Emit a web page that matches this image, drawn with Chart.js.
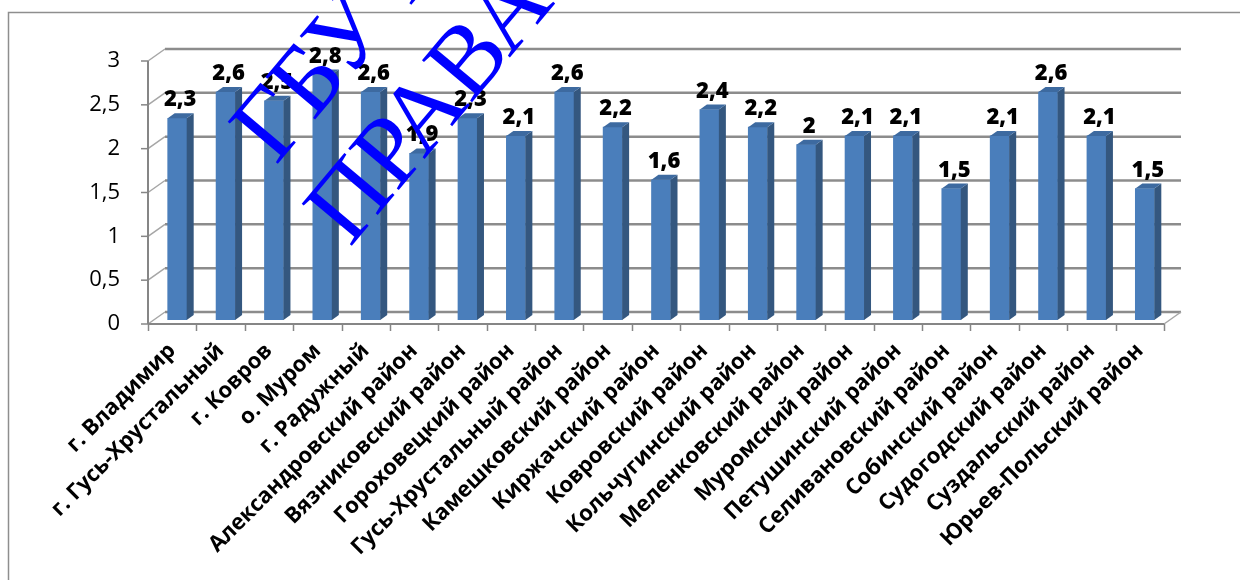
<!DOCTYPE html>
<html>
<head>
<meta charset="utf-8">
<title>Районы</title>
<script src="https://cdn.jsdelivr.net/npm/chart.js"></script>
<style>
    html, body { margin: 0; padding: 0; background: #fff; }
    #wrap { width: 1240px; height: 580px; }
</style>
</head>
<body>
<div id="wrap"><canvas id="myChart" width="1240" height="580"></canvas></div>
<script>
const categories = [
    'г. Владимир', 'г. Гусь-Хрустальный', 'г. Ковров', 'о. Муром', 'г. Радужный',
    'Александровский район', 'Вязниковский район', 'Гороховецкий район',
    'Гусь-Хрустальный район', 'Камешковский район', 'Киржачский район',
    'Ковровский район', 'Кольчугинский район', 'Меленковский район',
    'Муромский район', 'Петушинский район', 'Селивановский район',
    'Собинский район', 'Судогодский район', 'Суздальский район', 'Юрьев-Польский район'
];
const values = [2.3, 2.6, 2.5, 2.8, 2.6, 1.9, 2.3, 2.1, 2.6, 2.2, 1.6, 2.4, 2.2, 2, 2.1, 2.1, 1.5, 2.1, 2.6, 2.1, 1.5];
const yTicks = [0, 0.5, 1, 1.5, 2, 2.5, 3];
const watermark = ['ГБУ ВО ЦОКО', 'ПРАВА'];

const fmt = v => String(v).replace('.', ',');
const DX = 17, DY = -12;      // depth of the back wall
const BX = 5, BY = -4;        // bars sit a little back on the floor
const SX = 7, SY = -5;        // bar side depth

const wallPlugin = {
    id: 'wall',
    beforeDatasetsDraw(chart) {
        const ctx = chart.ctx;
        const y = chart.scales.y;
        const L = chart.chartArea.left, R = chart.chartArea.right;
        const p0 = y.getPixelForValue(0), p3 = y.getPixelForValue(3);
        ctx.save();
        // outer frame
        ctx.strokeStyle = '#8e8e8e';
        ctx.lineWidth = 1.5;
        ctx.strokeRect(8.5, 12.5, 1300, 700);
        // back wall grid
        yTicks.forEach(v => {
            const py = y.getPixelForValue(v);
            ctx.strokeStyle = '#8c8c8c';
            ctx.lineWidth = 2.5;
            ctx.beginPath();
            ctx.moveTo(L + DX, py + DY);
            ctx.lineTo(R + DX, py + DY);
            ctx.stroke();
            ctx.strokeStyle = '#a6a6a6';
            ctx.lineWidth = 1.5;
            ctx.beginPath();
            ctx.moveTo(L, py);
            ctx.lineTo(L + DX, py + DY);
            ctx.stroke();
            ctx.strokeStyle = '#868686';
            ctx.beginPath();
            ctx.moveTo(L - 7, py);
            ctx.lineTo(L, py);
            ctx.stroke();
        });
        // floor
        ctx.strokeStyle = '#a6a6a6';
        ctx.lineWidth = 1.5;
        ctx.beginPath();
        ctx.moveTo(R, p0);
        ctx.lineTo(R + DX, p0 + DY);
        ctx.stroke();
        ctx.strokeStyle = '#868686';
        ctx.lineWidth = 2;
        ctx.beginPath();
        ctx.moveTo(L, p0);
        ctx.lineTo(R, p0);
        ctx.moveTo(L, p3);
        ctx.lineTo(L, p0);
        ctx.stroke();
        // category ticks
        const step = (R - L) / categories.length;
        ctx.lineWidth = 1.5;
        ctx.beginPath();
        for (let i = 0; i <= categories.length; i++) {
            const px = Math.round(L + i * step) + 0.5;
            ctx.moveTo(px, p0);
            ctx.lineTo(px, p0 + 7);
        }
        ctx.stroke();
        ctx.restore();
        ctx.save();
        ctx.translate(BX, BY);
    },
    afterDatasetsDraw(chart) {
        const ctx = chart.ctx;
        // still translated from beforeDatasetsDraw
        chart.getDatasetMeta(0).data.forEach(bar => {
            const l = bar.x - bar.width / 2, r = bar.x + bar.width / 2;
            const t = bar.y, b = bar.base;
            ctx.fillStyle = '#34577f';
            ctx.beginPath();
            ctx.moveTo(r, t);
            ctx.lineTo(r + SX, t + SY);
            ctx.lineTo(r + SX, b + SY);
            ctx.lineTo(r, b);
            ctx.closePath();
            ctx.fill();
            ctx.fillStyle = '#3d6aa0';
            ctx.beginPath();
            ctx.moveTo(l, t);
            ctx.lineTo(l + SX, t + SY);
            ctx.lineTo(r + SX, t + SY);
            ctx.lineTo(r, t);
            ctx.closePath();
            ctx.fill();
        });
        ctx.restore();
        // value labels
        ctx.save();
        ctx.font = '800 22px "Open Sans"';
        ctx.fillStyle = '#000';
        ctx.textAlign = 'center';
        ctx.textBaseline = 'alphabetic';
        chart.getDatasetMeta(0).data.forEach((bar, i) => {
            ctx.fillText(fmt(values[i]), bar.x + BX + 3, bar.y + BY - 12);
        });
        ctx.restore();
    },
    afterDraw(chart) {
        const ctx = chart.ctx;
        ctx.save();
        ctx.fillStyle = '#0000ff';
        ctx.font = '100px "Liberation Serif"';
        ctx.textBaseline = 'alphabetic';
        ctx.translate(276, 166);
        ctx.rotate(-50 * Math.PI / 180);
        ctx.fillText(watermark[0], 0, 0);
        ctx.restore();
        ctx.save();
        ctx.fillStyle = '#0000ff';
        ctx.font = '100px "Liberation Serif"';
        ctx.translate(350, 248);
        ctx.rotate(-50 * Math.PI / 180);
        ctx.fillText(watermark[1], 0, 0);
        ctx.restore();
    }
};

new Chart(document.getElementById('myChart').getContext('2d'), {
    type: 'bar',
    data: {
        labels: categories,
        datasets: [{
            data: values,
            backgroundColor: '#4a7ebb',
            borderWidth: 0,
            barThickness: 19
        }]
    },
    options: {
        responsive: false,
        animation: false,
        layout: { padding: { left: 0, top: 61, right: 76, bottom: 0 } },
        plugins: { legend: { display: false }, tooltip: { enabled: false } },
        scales: {
            x: {
                grid: { display: false },
                border: { display: false },
                ticks: {
                    autoSkip: false,
                    minRotation: 45,
                    maxRotation: 45,
                    padding: 6,
                    color: '#000',
                    font: { family: 'Open Sans', size: 22, weight: 'bold' }
                },
                afterFit(scale) { scale.height = 256; }
            },
            y: {
                min: 0,
                max: 3,
                grid: { display: false },
                border: { display: false },
                ticks: {
                    stepSize: 0.5,
                    padding: 20,
                    color: '#000',
                    font: { family: 'Open Sans', size: 22 },
                    callback: v => fmt(v)
                },
                afterFit(scale) { scale.width = 148; }
            }
        }
    },
    plugins: [wallPlugin]
});
</script>
</body>
</html>
